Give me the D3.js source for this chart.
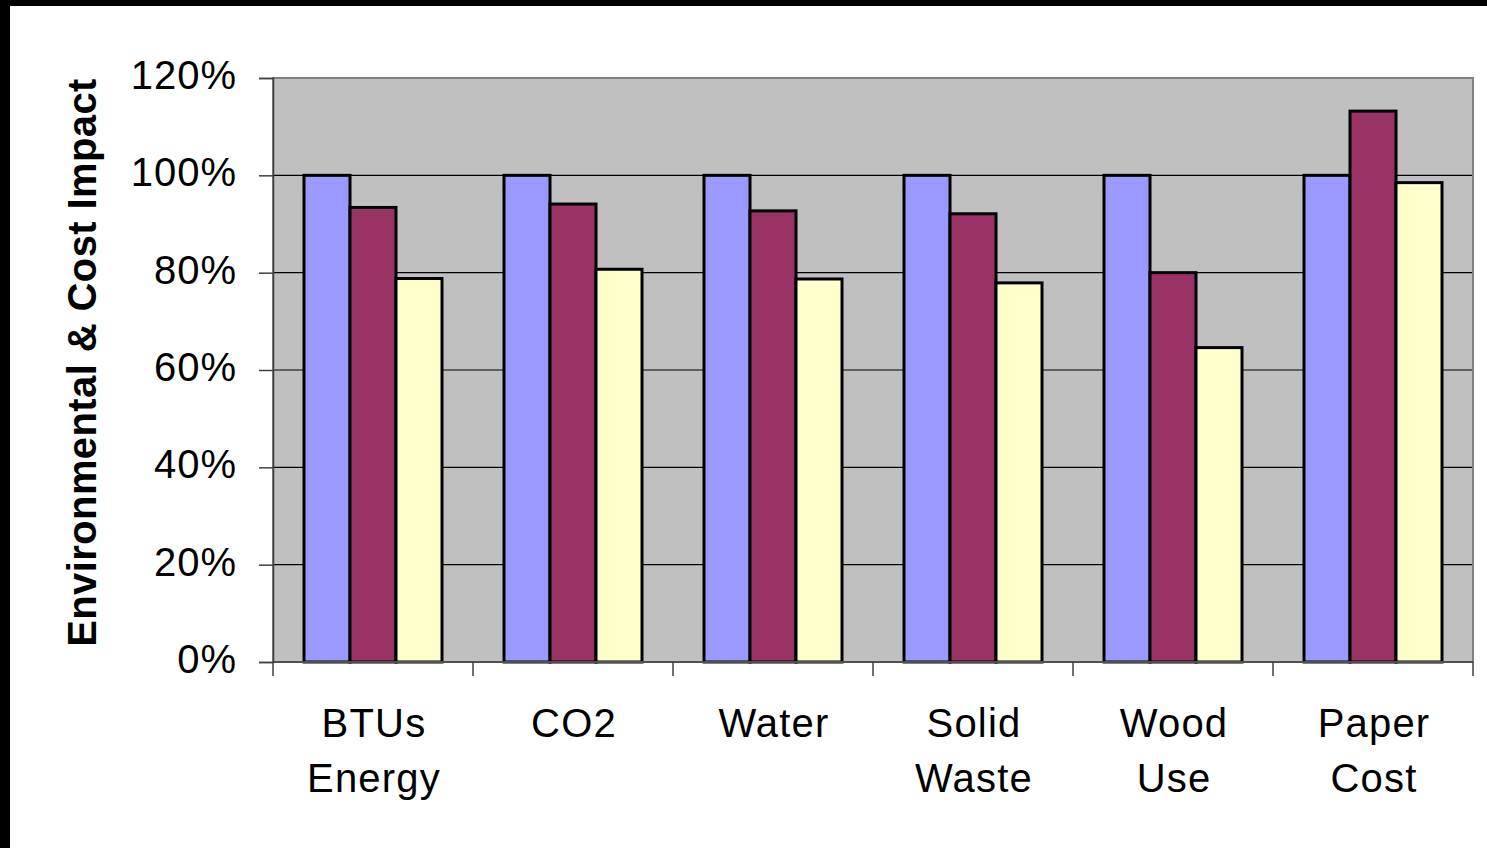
<!DOCTYPE html>
<html>
<head>
<meta charset="utf-8">
<script src="https://cdn.jsdelivr.net/npm/d3@7"></script>
<style>
  body { margin: 0; background: #000; }
  svg { display: block; }
</style>
</head>
<body>
<div id="chart"></div>
<script>
// categories (two-line labels) and the three series, as fractions of the baseline
const categories = ["BTUs Energy", "CO2", "Water", "Solid Waste", "Wood Use", "Paper Cost"];
const categoryLines = [["BTUs", "Energy"], ["CO2"], ["Water"], ["Solid", "Waste"], ["Wood", "Use"], ["Paper", "Cost"]];
const s1Values = [1.00, 1.00, 1.00, 1.00, 1.00, 1.00];
const s2Values = [0.934, 0.941, 0.927, 0.921, 0.800, 1.132];
const s3Values = [0.788, 0.807, 0.787, 0.779, 0.646, 0.985];
const yTicks = [0, 0.2, 0.4, 0.6, 0.8, 1.0, 1.2];
const colors = ["#9999FF", "#993366", "#FFFFCC"];

const W = 1487, H = 848;
const margin = {left: 273, top: 78, right: 14, bottom: 186};
const plotW = W - margin.left - margin.right;
const plotH = H - margin.top - margin.bottom;
const font = "Liberation Sans, Arial, sans-serif";

const svg = d3.select("#chart").append("svg")
    .attr("width", W).attr("height", H);

// black frame on top/left, white page
svg.append("rect").attr("width", W).attr("height", H).attr("fill", "#000");
svg.append("rect").attr("x", 10).attr("y", 6).attr("width", W - 10).attr("height", H - 6).attr("fill", "#fff");

const g = svg.append("g").attr("transform", `translate(${margin.left}, ${margin.top})`);

const x = d3.scaleBand().domain(categories).range([0, plotW]).padding(0);
const y = d3.scaleLinear().domain([0, 1.2]).range([plotH, 0]);

// plot background
g.append("rect").attr("width", plotW).attr("height", plotH).attr("fill", "#C0C0C0");

// gridlines
g.append("g").selectAll("line").data(yTicks.filter(d => d > 0 && d < 1.2)).enter().append("line")
    .attr("x1", 0).attr("x2", plotW)
    .attr("y1", d => y(d)).attr("y2", d => y(d))
    .attr("stroke", "#000").attr("stroke-width", 1.2);

// bars
const data = categories.map((c, i) => ({cat: c, vals: [s1Values[i], s2Values[i], s3Values[i]]}));
const barW = 46;
const groupOff = (x.bandwidth() - barW * 3) / 2;
g.append("g").selectAll("g").data(data).enter().append("g")
    .attr("transform", d => `translate(${x(d.cat) + groupOff}, 0)`)
    .selectAll("rect").data(d => d.vals).enter().append("rect")
    .attr("x", (d, i) => i * barW)
    .attr("y", d => y(d))
    .attr("width", barW)
    .attr("height", d => plotH - y(d))
    .attr("fill", (d, i) => colors[i])
    .attr("stroke", "#000").attr("stroke-width", 3);

// plot border
g.append("rect").attr("width", plotW).attr("height", plotH)
    .attr("fill", "none").attr("stroke", "#808080").attr("stroke-width", 2);

// y axis
const yAxis = g.append("g").call(d3.axisLeft(y).tickValues(yTicks).tickFormat(d3.format(".0%")).tickSize(14).tickPadding(22));
yAxis.select(".domain").attr("stroke", "#404040").attr("stroke-width", 1.5);
yAxis.selectAll(".tick line").attr("stroke", "#404040").attr("stroke-width", 1.5);
yAxis.selectAll(".tick text")
    .attr("font-family", font).attr("font-size", 40).attr("letter-spacing", 1)
    .attr("fill", "#000").attr("dy", "0.26em");

// x axis ticks at category boundaries
const xAxisG = g.append("g").attr("transform", `translate(0, ${plotH})`);
xAxisG.append("line").attr("x1", 0).attr("x2", plotW).attr("stroke", "#404040").attr("stroke-width", 1.5);
xAxisG.selectAll("line.tk").data(categories.map(c => x(c)).concat([plotW])).enter().append("line")
    .attr("class", "tk")
    .attr("x1", d => d).attr("x2", d => d).attr("y1", 0).attr("y2", 14)
    .attr("stroke", "#404040").attr("stroke-width", 1.5);

xAxisG.selectAll("text").data(categories).enter().append("text")
    .attr("x", d => x(d) + x.bandwidth() / 2 + 1)
    .attr("y", 75)
    .attr("text-anchor", "middle")
    .attr("font-family", font).attr("font-size", 40).attr("letter-spacing", 1.2)
    .attr("fill", "#000")
    .selectAll("tspan").data((d, i) => categoryLines[i]).enter().append("tspan")
    .attr("x", function() { return d3.select(this.parentNode).attr("x"); })
    .attr("dy", (d, i) => i === 0 ? 0 : 55)
    .text(d => d);

// y title
svg.append("text")
    .attr("transform", "translate(96, 362.5) rotate(-90)")
    .attr("text-anchor", "middle")
    .attr("font-family", font).attr("font-size", 40).attr("letter-spacing", 0.4)
    .attr("font-weight", "bold").attr("fill", "#000")
    .text("Environmental & Cost Impact");
</script>
</body>
</html>
